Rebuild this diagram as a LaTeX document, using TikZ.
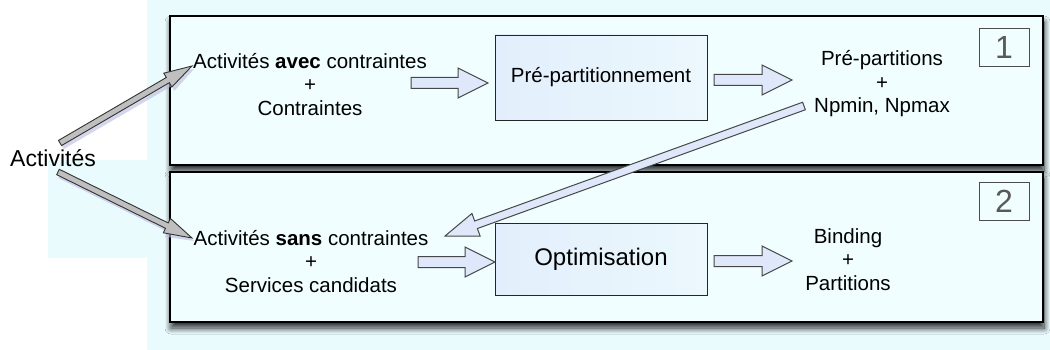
\documentclass[tikz,border=0pt]{standalone}
\usepackage{fontspec}
\setmainfont{Liberation Sans}
\usetikzlibrary{calc,shadows.blur}
\definecolor{bgcyan}{RGB}{234,251,254}
\definecolor{boxfill}{RGB}{240,254,255}
\definecolor{innerA}{RGB}{226,238,251}
\definecolor{innerB}{RGB}{236,248,253}
\definecolor{arrowfill}{RGB}{222,232,250}
\newcommand\fatarrow[6][]{%
  \coordinate (fah) at ($(#3)!#6!(#2)$);
  \draw[blockarrow,#1] ($(#2)!#4!90:(#3)$) -- ($(fah)!#4!-90:(#2)$) -- ($(fah)!#5!-90:(#2)$) -- (#3) -- ($(fah)!#5!90:(#2)$) -- ($(fah)!#4!90:(#2)$) -- ($(#2)!#4!-90:(#3)$) -- cycle;
}
\begin{document}
\begin{tikzpicture}[x=1pt,y=-1pt,
  stagebox/.style={draw=black, line width=1.3pt, fill=boxfill, inner sep=0pt,
    blur shadow={shadow xshift=1pt, shadow yshift=-6pt, shadow blur radius=6pt, shadow blur steps=12, shadow opacity=85}},
  innerbox/.style={draw=black!85, line width=0.9pt, left color=innerA, right color=innerB, inner sep=0pt},
  numbox/.style={draw=black!70, line width=0.8pt, fill=boxfill, inner sep=0pt, minimum width=50pt, minimum height=38pt, text=black!65, font=\fontsize{32}{32}\selectfont},
  txt/.style={align=center, font=\fontsize{20.5}{23.5}\selectfont, inner sep=0pt},
  blockarrow/.style={draw=black!72, line width=1pt, fill=arrowfill, line join=miter},
  grayarrow/.style={draw=black!80, line width=0.9pt, fill=gray!50},
  grayshadow/.style={draw=none, fill=blue!35!gray!40, opacity=0.6}
]
\useasboundingbox (0,0) rectangle (1050,350);
% background
\fill[white] (0,0) rectangle (1050,350);
\fill[bgcyan] (147,0) rectangle (1050,350);
\fill[bgcyan] (48,160) rectangle (147,258);

% stage boxes
\node[stagebox, minimum width=873pt, minimum height=149pt] (stage1) at (606.5,90.5) {};
\node[stagebox, minimum width=873pt, minimum height=150pt] (stage2) at (606.5,247) {};

% inner boxes
\node[innerbox, minimum width=212pt, minimum height=85pt, font=\fontsize{20.5}{24}\selectfont] (prep) at (601,77.5) {Pré-partitionnement};
\node[innerbox, minimum width=212pt, minimum height=72pt, font=\fontsize{24}{28}\selectfont] (optim) at (601,259) {Optimisation};

% number labels
\node[numbox] (n1) at (1004,47) {1};
\node[numbox] (n2) at (1004,201) {2};

% texts
\node[txt] (avec) at (310,84.5) {Activités \textbf{avec} contraintes\\+\\Contraintes};
\node[txt] (prepart) at (882,84) {Pré-partitions\\+\\Npmin, Npmax};
\node[txt] (sans) at (311,261.5) {Activités \textbf{sans} contraintes\\+\\Services candidats};
\node[txt] (bind) at (848,259.5) {Binding\\+\\Partitions};
\node[inner sep=0pt, font=\fontsize{23}{26}\selectfont] (act) at (53,158) {Activités};

% connector end points
\coordinate (g1s) at (60,143);
\coordinate (g1e) at (192,66);
\coordinate (g2s) at (58,172);
\coordinate (g2e) at (192,238);
\coordinate (g1ss) at (62,146);
\coordinate (g1es) at (194,69);
\coordinate (g2ss) at (60,175);
\coordinate (g2es) at (194,241);
\coordinate (b1s) at (411,83);
\coordinate (b1e) at (488,83);
\coordinate (b2s) at (714,80);
\coordinate (b2e) at (792,80);
\coordinate (b3s) at (418,262);
\coordinate (b3e) at (495,262);
\coordinate (b4s) at (714,261);
\coordinate (b4e) at (792,261);
\coordinate (ds) at (804,106);
\coordinate (de) at (445,236);

% gray arrows from Activites
\fatarrow[grayshadow]{g1ss}{g1es}{3.5pt}{9pt}{28pt}
\fatarrow[grayshadow]{g2ss}{g2es}{3.5pt}{9pt}{28pt}
\fatarrow[grayarrow]{g1s}{g1e}{3pt}{8pt}{28pt}
\fatarrow[grayarrow]{g2s}{g2e}{3pt}{8pt}{28pt}

% block arrows
\fatarrow{b1s}{b1e}{5.5pt}{15pt}{30pt}
\fatarrow{b2s}{b2e}{5.5pt}{15pt}{30pt}
\fatarrow{b3s}{b3e}{5.5pt}{15pt}{30pt}
\fatarrow{b4s}{b4e}{5.5pt}{15pt}{30pt}

% long diagonal arrow
\fatarrow{ds}{de}{4pt}{12pt}{33pt}
\end{tikzpicture}
\end{document}
